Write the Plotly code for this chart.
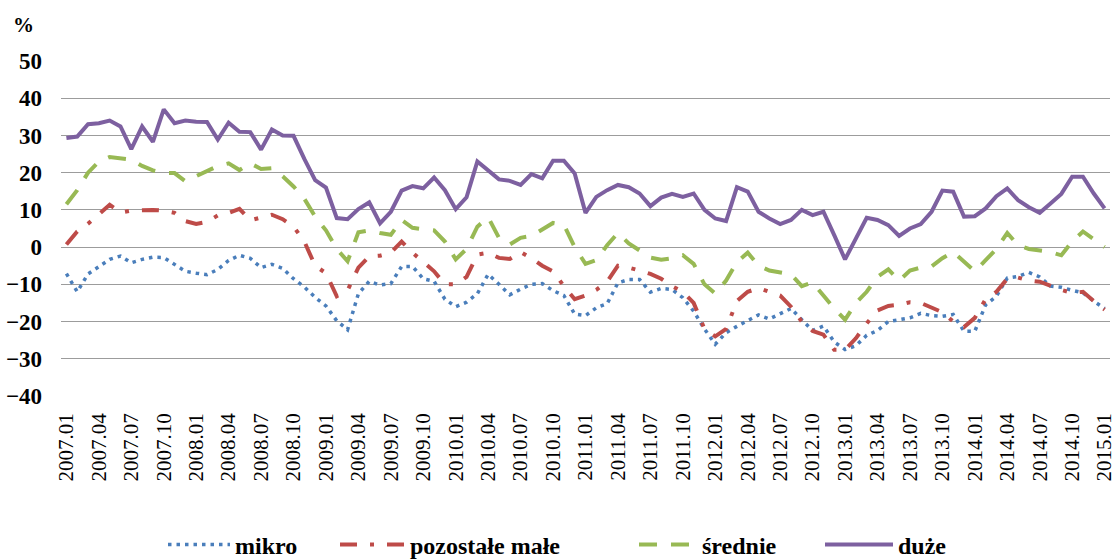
import plotly.graph_objects as go

years = list(range(2007, 2016))
months = [f"{y}.{m:02d}" for y in years for m in range(1, 13)]
months = months[:months.index("2015.01") + 1]
tick_labels = months[::3]

mikro = [-7.1, -12, -7.2, -5.2, -3.3, -2.4, -4.2, -3.3, -2.7, -2.8,
         -4.6, -6.5, -7, -7.4, -6, -3.6, -2.2, -3, -5.5, -4.6,
         -5.7, -8.5, -10.7, -13.5, -15.8, -19.8, -22.2, -12.5, -9.2, -10.2,
         -9.8, -5.2, -5.2, -8.5, -9.2, -14, -16, -14.8, -12.5, -7.3,
         -10, -12.8, -11.3, -10, -9.8, -11.7, -13, -18, -18.4, -16.3,
         -15.2, -9.6, -8.7, -8.7, -12.1, -11.1, -11.4, -13.6, -17.2, -22,
         -26.1, -23, -21.3, -19.7, -18.2, -19.3, -17.8, -16.5, -19.5, -22.4,
         -21.2, -25.5, -27.5, -26.5, -23.7, -22.4, -20, -19.6, -19, -17.8,
         -18.4, -18.6, -18.1, -22.6, -22.6, -15.5, -13.2, -8.3, -7.9, -6.8,
         -8, -10.5, -10.8, -11.6, -12.3, -14.5, -16.5]

pozostale_male = [0.7, 4.2, 6.3, 9, 11.4, 9.3, 9.8, 9.9, 10, 9.8,
                  9.2, 7, 6.2, 6.8, 8.5, 9.2, 10.3, 7.2, 8, 8.7,
                  7.5, 5.5, 1.5, -5, -7, -13.2, -11.6, -5.5, -2.5, -2.3,
                  -1.5, 1.5, -1.5, -4, -6.5, -10, -10, -8, -2, -1.5,
                  -2.9, -3.2, -1.3, -3, -5, -6.5, -10.5, -14, -13, -11.5,
                  -9.3, -5, -5.5, -6.3, -7.2, -8.5, -10.5, -12, -15, -22,
                  -24, -22, -14.5, -12, -11, -12, -13, -16, -20, -22.5,
                  -23.5, -27.6, -27.6, -24.5, -20.5, -17, -15.8, -15.5, -14.8, -15,
                  -16.3, -17.5, -20, -21.5, -19, -14, -12, -8.5, -8.2, -9,
                  -9.3, -10.5, -11.5, -12.3, -12, -14.5, -16.8]

srednie = [11.5, 15.3, 20, 23, 24.2, 23.8, 23.5, 21.8, 20.6, 19.9,
           19.9, 17.7, 19, 20.4, 21.8, 22.5, 20.7, 22.5, 21, 21.2,
           19, 16.3, 13, 8.2, 4.5, -0.5, -3.8, 4, 4.5, 3.8,
           3.3, 7.3, 5.2, 4.8, 4.5, 1.5, -3.3, -0.5, 5.5, 8,
           2.5, 0.7, 2.5, 3, 4.7, 6.5, 6, 0, -4.5, -3.5,
           0.5, 3.8, 1, -1, -2.8, -3.4, -3, -2.2, -4.5, -10,
           -12.5, -9, -4, -1.5, -5, -6.3, -6.8, -7.3, -10.5, -9.5,
           -13, -16.5, -19.5, -15, -12, -8, -6, -9, -6.3, -5.5,
           -5.2, -3, -1.3, -4, -6.5, -3.5, -0.5, 3.8, 0.5, -0.5,
           -1, -1.3, -2.2, 1.5, 4.2, 2, 0]

duze = [29.3, 29.7, 33, 33.3, 34, 32.4, 26.3, 32.4, 28.3, 37,
        33.3, 34, 33.7, 33.6, 28.9, 33.4, 31, 30.9, 26.2, 31.6,
        30, 29.9, 23.7, 18, 16, 7.8, 7.5, 10.2, 12, 6.4,
        9.5, 15.2, 16.4, 15.8, 18.7, 15.3, 10.2, 13.4, 23, 20.7,
        18.2, 17.8, 16.7, 19.6, 18.5, 23.2, 23.2, 19.8, 9.2, 13.5,
        15.3, 16.7, 16.1, 14.4, 11, 13.3, 14.3, 13.5, 14.4, 10,
        7.7, 7, 16.1, 14.9, 9.5, 7.7, 6.2, 7.3, 10, 8.6,
        9.5, 3.2, -3.3, 2.3, 7.9, 7.3, 5.9, 3, 5, 6.2,
        9.5, 15.2, 14.9, 8.2, 8.3, 10.4, 13.7, 15.8, 12.6, 10.7,
        9.2, 11.7, 14.3, 18.9, 18.9, 14.4, 10.4]

series_names = ["mikro", "pozostałe małe", "średnie", "duże"]
y_ticks = list(range(-40, 51, 10))

FONT = "Liberation Serif"
W, H = 1117, 559

fig = go.Figure()
styles = [
    dict(color="#4A7EBB", width=3.5, dash="3.5px,5px"),
    dict(color="#BE4B48", width=4, dash="17px,13px,4px,13px"),
    dict(color="#98B954", width=4, dash="18px,14px"),
    dict(color="#7D60A0", width=4),
]
legend_ids = ["legend", "legend2", "legend3", "legend4"]
legend_x = [163, 335, 634, 820]
legend_widths = [62, 65, 58, 68]
for name, vals, st, lid in zip(series_names, [mikro, pozostale_male, srednie, duze], styles, legend_ids):
    fig.add_trace(go.Scatter(x=months, y=vals, name=name, mode="lines", line=st,
                             legend=lid))

legend_common = dict(orientation="h", xref="container", yref="container",
                     xanchor="left", yanchor="middle", y=1 - 545 / H,
                     bgcolor="rgba(0,0,0,0)", borderwidth=0,
                     font=dict(family=FONT, size=24, weight="bold", color="black"))
legend_layout = {}
for lid, lx, lw in zip(legend_ids, legend_x, legend_widths):
    legend_layout[lid] = dict(legend_common, x=lx / W, itemwidth=lw)

fig.update_layout(
    width=W, height=H,
    margin=dict(l=61, r=7, t=61, b=163, autoexpand=False),
    paper_bgcolor="white", plot_bgcolor="white",
    font=dict(family=FONT, color="black"),
    showlegend=True,
    xaxis=dict(type="category", tickmode="array", tickvals=tick_labels,
               ticktext=tick_labels, tickangle=-90, showgrid=False,
               showline=False, ticks="", ticklabelstandoff=12,
               tickfont=dict(family=FONT, size=21, color="black"),
               range=[-0.5, len(months) - 0.5], automargin=False),
    yaxis=dict(range=[-40, 50], tickvals=y_ticks, showgrid=True,
               gridcolor="#9C9C9C", gridwidth=1.3, zeroline=False,
               showline=False, ticks="", ticklabelstandoff=18, automargin=False,
               tickfont=dict(family=FONT, size=23, weight="bold", color="black")),
    annotations=[dict(text="<b>%</b>", xref="paper", yref="paper",
                      x=(23 - 61) / (W - 61 - 7), y=1 + (61 - 25) / (H - 61 - 163),
                      xanchor="center", yanchor="middle", showarrow=False,
                      font=dict(family=FONT, size=21, color="black"))],
    **legend_layout,
)

fig.write_html("out.html", config={"displayModeBar": False},
               post_script="document.body.style.margin='0';")
